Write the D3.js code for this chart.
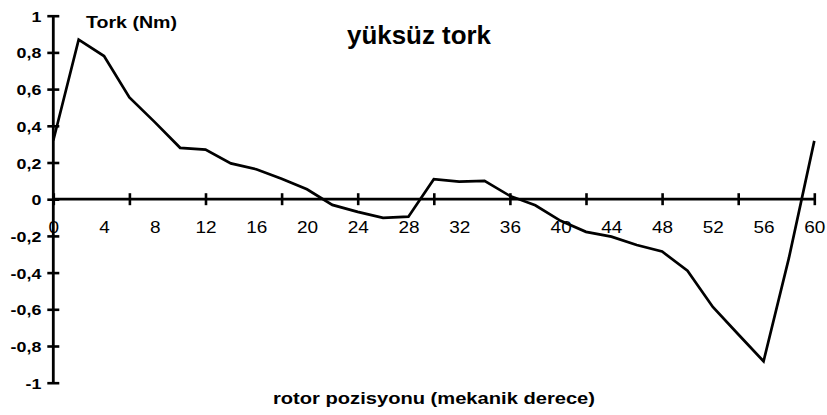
<!DOCTYPE html>
<html>
<head>
<meta charset="utf-8">
<script src="https://cdn.jsdelivr.net/npm/d3@7"></script>
<style>
  body { margin: 0; background: #fff; }
  svg text { font-family: "Liberation Sans", Arial, sans-serif; fill: #000; }
</style>
</head>
<body>
<div id="chart"></div>
<script>
// rotor position (mechanical degrees) and no-load torque (Nm)
var positions = [0,2,4,6,8,10,12,14,16,18,20,22,24,26,28,30,32,34,36,38,40,42,44,46,48,50,52,54,56,58,60];
var torque = [0.32,0.87,0.78,0.555,0.42,0.28,0.27,0.195,0.163,0.112,0.054,-0.031,-0.069,-0.102,-0.095,
              0.109,0.096,0.1,0.018,-0.033,-0.118,-0.178,-0.204,-0.25,-0.285,-0.39,-0.587,-0.736,-0.883,-0.32,0.318];

var xTickValues = [0,6,12,18,24,30,36,42,48,54,60];
var xLabelValues = [0,4,8,12,16,20,24,28,32,36,40,44,48,52,56,60];
var yTickValues = [1,0.8,0.6,0.4,0.2,0,-0.2,-0.4,-0.6,-0.8,-1];
var yTickLabels = ["1","0,8","0,6","0,4","0,2","0","-0,2","-0,4","-0,6","-0,8","-1"];

var chartTitle = "yüksüz tork";
var yTitle = "Tork (Nm)";
var xTitle = "rotor pozisyonu (mekanik derece)";

var dim = {
    width: 827,
    height: 415,
    left: 53.3,
    right: 814.3,
    top: 15.7,
    bottom: 382.7
};
var stretch = 1.15; // text in the picture is a bit wide

var svg = d3.select("#chart").append("svg")
    .attr("width", dim.width)
    .attr("height", dim.height);

var x = d3.scaleLinear().domain([0,60]).range([dim.left, dim.right]);
var y = d3.scaleLinear().domain([-1,1]).range([dim.bottom, dim.top]);

// y axis
var yAxis = svg.append("g")
    .attr("transform", `translate(${dim.left},0)`)
    .call(d3.axisLeft(y).tickValues(yTickValues).tickFormat((d,i) => yTickLabels[i]));
yAxis.select(".domain").remove();
yAxis.append("line")
    .attr("y1", dim.top).attr("y2", dim.bottom)
    .attr("stroke", "#000").attr("stroke-width", 2.8);
yAxis.selectAll(".tick line")
    .attr("x1", -6).attr("x2", 6)
    .attr("stroke-width", 2.6);
yAxis.selectAll(".tick text")
    .attr("x", 0)
    .attr("dy", "0.36em")
    .attr("transform", `translate(-12,0) scale(${stretch},1)`)
    .style("font-size", "15.5px")
    .style("font-weight", "bold")
    .attr("text-anchor", "end");

// x axis at zero: tick marks
var xAxis = svg.append("g")
    .attr("transform", `translate(0,${y(0)})`)
    .call(d3.axisBottom(x).tickValues(xTickValues).tickFormat(""));
xAxis.select(".domain").remove();
xAxis.append("line")
    .attr("x1", dim.left).attr("x2", dim.right + 1)
    .attr("stroke", "#000").attr("stroke-width", 2.8);
xAxis.selectAll(".tick line")
    .attr("y1", -6).attr("y2", 6)
    .attr("stroke-width", 2.6);

// x labels (every 4 degrees)
var xLabels = svg.append("g")
    .attr("transform", `translate(0,${y(0)})`)
    .call(d3.axisBottom(x).tickValues(xLabelValues).tickSize(0));
xLabels.select(".domain").remove();
xLabels.selectAll(".tick text")
    .attr("y", 0)
    .attr("dy", 0)
    .attr("transform", `translate(0,33.5) scale(${stretch},1)`)
    .style("font-size", "16.5px");

// the curve
var line = d3.line()
    .x((d,i) => x(positions[i]))
    .y(d => y(d));

svg.append("path")
    .datum(torque)
    .attr("d", line)
    .attr("fill", "none")
    .attr("stroke", "#000")
    .attr("stroke-width", 2.7)
    .attr("stroke-linejoin", "miter");

// titles
svg.append("text")
    .attr("x", 347).attr("y", 44)
    .attr("textLength", 144)
    .attr("lengthAdjust", "spacingAndGlyphs")
    .style("font-size", "26px")
    .style("font-weight", "bold")
    .text(chartTitle);

svg.append("text")
    .attr("x", 86).attr("y", 27.5)
    .attr("textLength", 91)
    .attr("lengthAdjust", "spacingAndGlyphs")
    .style("font-size", "17px")
    .style("font-weight", "bold")
    .text(yTitle);

svg.append("text")
    .attr("x", 273).attr("y", 403.5)
    .attr("textLength", 322)
    .attr("lengthAdjust", "spacingAndGlyphs")
    .style("font-size", "17px")
    .style("font-weight", "bold")
    .text(xTitle);
</script>
</body>
</html>
